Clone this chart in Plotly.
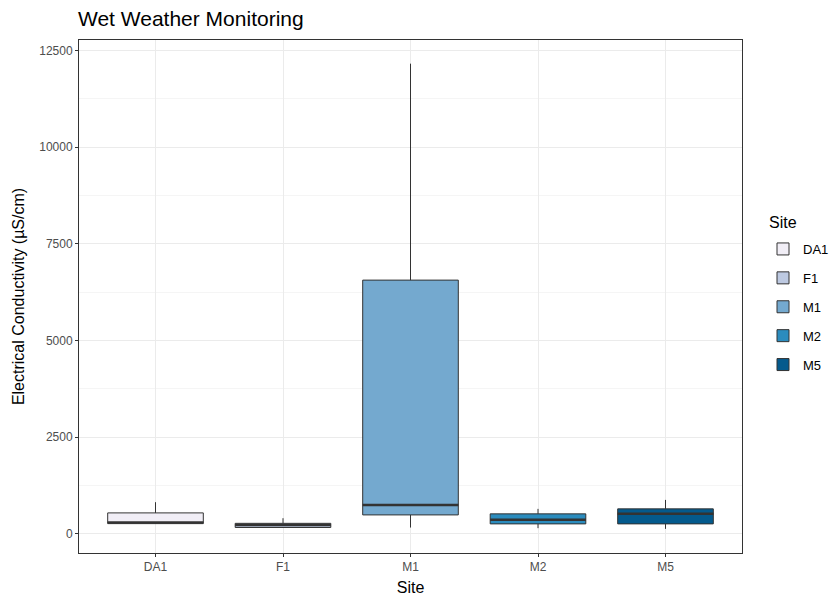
import plotly.graph_objects as go

sites = ["DA1", "F1", "M1", "M2", "M5"]
q1 = [265, 165, 490, 258, 258]
median = [292, 230, 749, 362, 517]
q3 = [542, 272, 6561, 517, 646]
lower = [265, 155, 163, 147, 129]
upper = [819, 405, 12158, 646, 878]
colors = ["#F1EEF6", "#BDC9E1", "#74A9CF", "#2B8CBE", "#045A8D"]
y_ticks = [0, 2500, 5000, 7500, 10000, 12500]
y_minor = [1250, 3750, 6250, 8750, 11250]

FONT = "Liberation Sans, Arial, sans-serif"
BOX_W = 0.75
L, R, T, B = 79, 92, 40, 44
W, H = 834, 597

fig = go.Figure()
for i, s in enumerate(sites):
    fig.add_trace(go.Box(
        x=[s], q1=[q1[i]], median=[median[i]], q3=[q3[i]],
        lowerfence=[lower[i]], upperfence=[upper[i]],
        name=s, legendgroup=s, width=BOX_W,
        fillcolor=colors[i], line=dict(color="#333333", width=1),
        whiskerwidth=0, boxpoints=False, hoverinfo="skip",
    ))
    fig.add_shape(type="line", xref="x", yref="y",
                  x0=i - BOX_W / 2, x1=i + BOX_W / 2,
                  y0=median[i], y1=median[i],
                  line=dict(color="#333333", width=2.5), layer="above")

fig.add_annotation(text="Site", xref="paper", yref="paper",
                   x=(767 - L) / (W - L - R), y=(H - B - 222) / (H - T - B),
                   xanchor="left", yanchor="middle", showarrow=False,
                   font=dict(size=16, family=FONT, color="#000000"))

fig.update_layout(
    width=W, height=H,
    margin=dict(l=L, r=R, t=T, b=B),
    paper_bgcolor="white", plot_bgcolor="white",
    boxmode="overlay",
    font=dict(family=FONT, color="#000000"),
    title=dict(text="Wet Weather Monitoring", x=78 / W, xanchor="left",
               y=1 - 19 / H, yanchor="middle",
               font=dict(size=21, family=FONT, color="#000000")),
    legend=dict(font=dict(size=13, color="#000000"),
                xref="container", yref="container",
                x=763 / W, xanchor="left", y=1 - 234 / H, yanchor="top",
                tracegroupgap=9, bgcolor="rgba(0,0,0,0)"),
    showlegend=True,
)
fig.update_xaxes(
    type="category", categoryorder="array", categoryarray=sites,
    range=[-0.6, len(sites) - 0.4],
    showgrid=True, gridcolor="#EBEBEB", gridwidth=1,
    showline=True, linecolor="#333333", linewidth=1, mirror=True,
    ticks="outside", ticklen=3, tickcolor="#333333",
    tickfont=dict(size=12, color="#4D4D4D"),
    title=dict(text="Site", font=dict(size=16), standoff=8),
    zeroline=False, automargin=False,
)
fig.update_yaxes(
    range=[-495, 12770],
    tickvals=y_ticks, ticktext=[str(v) for v in y_ticks],
    showgrid=True, gridcolor="#EBEBEB", gridwidth=1,
    minor=dict(showgrid=True, gridcolor="#F5F5F5", tickvals=y_minor),
    showline=True, linecolor="#333333", linewidth=1, mirror=True,
    ticks="outside", ticklen=3, tickcolor="#333333",
    tickfont=dict(size=12, color="#4D4D4D"),
    title=dict(text="Electrical Conductivity (µS/cm)", font=dict(size=16), standoff=10),
    zeroline=False, automargin=False,
)

fig.write_html("out.html")
